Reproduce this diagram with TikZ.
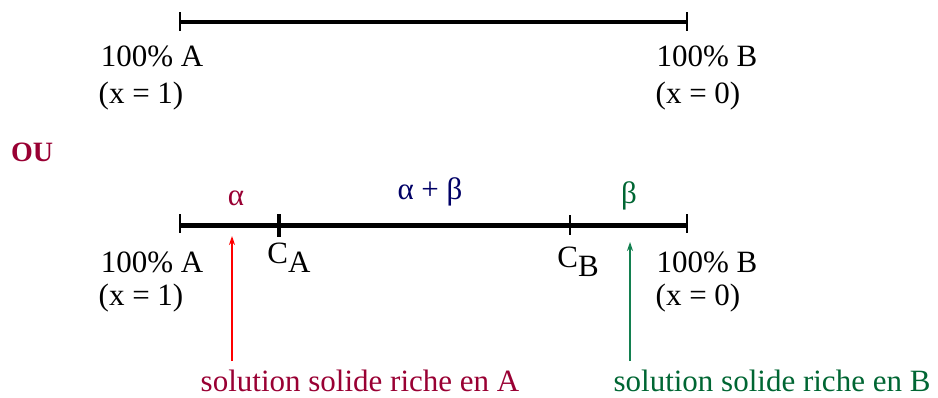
\documentclass[tikz,border=0pt]{standalone}
\usepackage{fontspec}
\setmainfont{Liberation Serif}
\usetikzlibrary{arrows.meta}
\definecolor{darkred}{HTML}{990033}
\definecolor{arrred}{HTML}{FF0000}
\definecolor{darkgreen}{HTML}{006633}
\definecolor{arrgreen}{HTML}{138050}
\definecolor{navy}{HTML}{000066}
\tikzset{
  lbl/.style={inner sep=0pt, font=\fontsize{31}{33}\selectfont},
  axis/.style={line width=3.2pt},
  axisthick/.style={line width=5pt},
  endtick/.style={line width=1.6pt},
  midtick/.style={line width=4pt},
  ptr/.style={line width=1.2pt, -{Stealth[length=9pt,width=6pt]}},
}
\begin{document}
\begin{tikzpicture}[x=1pt,y=-1pt]
\useasboundingbox (0,0) rectangle (938,397);
% top scale
\coordinate (a1) at (180,22);
\coordinate (b1) at (687,22);
\draw[axis] (a1) -- (b1);
\coordinate (a1t) at (180,12); \coordinate (a1b) at (180,31);
\coordinate (b1t) at (687,12); \coordinate (b1b) at (687,31);
\draw[endtick] (a1t) -- (a1b);
\draw[endtick] (b1t) -- (b1b);
\node[lbl] (pa1) at (152,56) {100\% A};
\node[lbl] (xa1) at (141,96) {(x = 1)};
\node[lbl] (pb1) at (707,56) {100\% B};
\node[lbl] (xb1) at (698,96) {(x = 0)};
% OU
\node[lbl, text=darkred, font=\fontsize{28}{30}\selectfont\bfseries] (ou) at (32,152) {OU};
% bottom scale
\coordinate (a2) at (180,225);
\coordinate (b2) at (687,225);
\draw[axisthick] (a2) -- (b2);
\coordinate (a2t) at (180,214); \coordinate (a2b) at (180,233);
\coordinate (b2t) at (687,214); \coordinate (b2b) at (687,233);
\draw[endtick] (a2t) -- (a2b);
\draw[endtick] (b2t) -- (b2b);
\coordinate (cat) at (279,214); \coordinate (cab) at (279,237);
\coordinate (cbt) at (570,215); \coordinate (cbb) at (570,235);
\draw[midtick] (cat) -- (cab);
\draw[line width=2.8pt] (cbt) -- (cbb);
\node[lbl, text=darkred] (alpha) at (236,198) {α};
\node[lbl, text=navy] (ab) at (430,192) {α + β};
\node[lbl, text=darkgreen] (beta) at (629,196) {β};
\node[lbl] (pa2) at (152,262) {100\% A};
\node[lbl] (xa2) at (141,298) {(x = 1)};
\node[lbl] (pb2) at (707,262) {100\% B};
\node[lbl] (xb2) at (698,298) {(x = 0)};
\node[lbl] (ca) at (289,258) {C\raisebox{-0.3em}{A}};
\node[lbl] (cb) at (578,262) {C\raisebox{-0.3em}{B}};
% arrows
\coordinate (ra0) at (232,361);
\coordinate (ra1) at (232,236);
\coordinate (ga0) at (630,361);
\coordinate (ga1) at (630,242);
\draw[ptr, arrred] (ra0) -- (ra1);
\draw[ptr, arrgreen] (ga0) -- (ga1);
\node[lbl, text=darkred] (sa) at (360,381) {solution solide riche en A};
\node[lbl, text=darkgreen] (sb) at (772,381) {solution solide riche en B};
\end{tikzpicture}
\end{document}
